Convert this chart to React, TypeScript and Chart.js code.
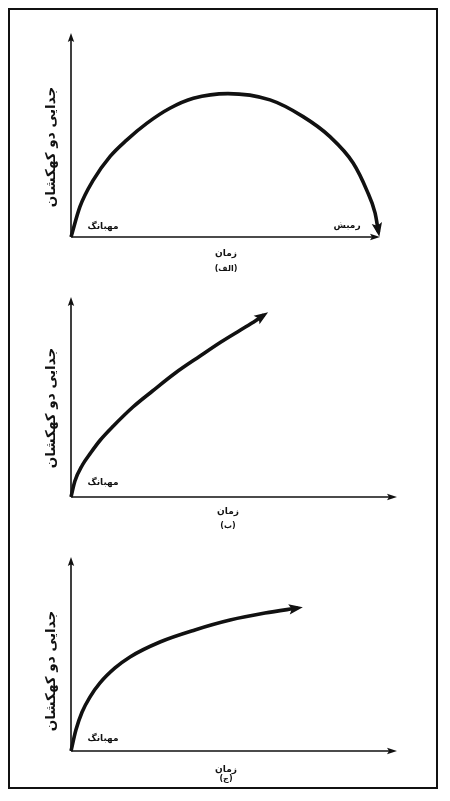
import React, { useEffect, useRef } from "react";
import { Chart, registerables } from "chart.js";

Chart.register(...registerables);

// ---- data (time on x, separation of two galaxies on y, both in % of axis) ----
const panelATime = [0, 2.9, 7.2, 12.6, 18.0, 24.5, 32.0, 39.6, 50.8, 64.4, 75.1, 83.8, 91.3, 95.7, 98.4, 99.5];
const panelASeparation = [0, 14.9, 27.9, 39.4, 47.5, 55.7, 63.1, 68.0, 70.3, 67.2, 59.0, 49.2, 36.3, 23.0, 11.8, 2.5];

const panelBTime = [0, 1.2, 3.5, 6, 9, 13, 19, 25, 32, 39.6, 46, 52, 56.5, 59.2];
const panelBSeparation = [0, 8, 16, 22, 28.5, 35.5, 45, 53, 62, 70.5, 77.5, 83.5, 88, 91];

const panelCTime = [0, 1.5, 3.4, 5.8, 8.9, 13.5, 18.1, 27.3, 38.0, 48.8, 59.5, 69.6];
const panelCSeparation = [0, 10.8, 20.1, 27.8, 35.1, 42.8, 48.5, 56.2, 62.4, 67.5, 71.1, 73.7];

// ---- texts ----
const yAxisTitle = "جدایی دو کهکشان";
const xAxisTitle = "زمان";
const panelCaptions = ["(الف)", "(ب)", "(ج)"];
const bigBangLabel = "مهبانگ";
const bigCrunchLabel = "رمبش";

const INK = "#111111";
const FONT = '"DejaVu Sans", sans-serif';

type Pos = { x: number; y: number };
type PanelCfg = {
  time: number[];
  sep: number[];
  top: number;
  height: number;
  padding: { left: number; right: number; top: number; bottom: number };
  caption: string;
  yTitle: Pos;
  xTitle: Pos;
  captionPos: Pos;
  bang: Pos;
  crunch?: Pos;
};

const panels: PanelCfg[] = [
  {
    time: panelATime,
    sep: panelASeparation,
    top: 10,
    height: 270,
    padding: { left: 71, right: 70, top: 23, bottom: 43 },
    caption: panelCaptions[0],
    yTitle: { x: 51, y: 137 },
    xTitle: { x: 226, y: 244 },
    captionPos: { x: 226, y: 259 },
    bang: { x: 103, y: 217 },
    crunch: { x: 347, y: 216 },
  },
  {
    time: panelBTime,
    sep: panelBSeparation,
    top: 280,
    height: 260,
    padding: { left: 71, right: 53, top: 17, bottom: 43 },
    caption: panelCaptions[1],
    yTitle: { x: 51, y: 128 },
    xTitle: { x: 228, y: 232 },
    captionPos: { x: 228, y: 246 },
    bang: { x: 103, y: 203 },
  },
  {
    time: panelCTime,
    sep: panelCSeparation,
    top: 540,
    height: 246,
    padding: { left: 71, right: 53, top: 17, bottom: 35 },
    caption: panelCaptions[2],
    yTitle: { x: 51, y: 131 },
    xTitle: { x: 226, y: 230 },
    captionPos: { x: 226, y: 239 },
    bang: { x: 103, y: 199 },
  },
];

function arrowHead(
  ctx: CanvasRenderingContext2D,
  tipX: number,
  tipY: number,
  dx: number,
  dy: number,
  len: number,
  half: number
) {
  const n = Math.hypot(dx, dy) || 1;
  const ux = dx / n;
  const uy = dy / n;
  const bx = tipX - ux * len;
  const by = tipY - uy * len;
  const px = -uy;
  const py = ux;
  ctx.beginPath();
  ctx.moveTo(tipX, tipY);
  ctx.lineTo(bx + px * half, by + py * half);
  ctx.lineTo(tipX - ux * len * 0.8, tipY - uy * len * 0.8);
  ctx.lineTo(bx - px * half, by - py * half);
  ctx.closePath();
  ctx.fill();
}

function PanelChart({ cfg }: { cfg: PanelCfg }) {
  const ref = useRef<HTMLCanvasElement | null>(null);

  useEffect(() => {
    if (!ref.current) return;

    const axesPlugin = {
      id: "axesWithArrows",
      beforeDatasetsDraw(chart: any) {
        const { ctx, chartArea } = chart;
        const { left, right, top, bottom } = chartArea;
        ctx.save();
        ctx.strokeStyle = INK;
        ctx.fillStyle = INK;
        ctx.lineWidth = 1.6;
        ctx.lineCap = "butt";
        ctx.beginPath();
        ctx.moveTo(left, bottom);
        ctx.lineTo(left, top + 5);
        ctx.moveTo(left, bottom);
        ctx.lineTo(right - 5, bottom);
        ctx.stroke();
        arrowHead(ctx, left, top, 0, -1, 9, 3.2);
        arrowHead(ctx, right, bottom, 1, 0, 10, 3.2);
        ctx.restore();
      },
    };

    const curveArrowPlugin = {
      id: "curveArrow",
      afterDatasetsDraw(chart: any) {
        const meta = chart.getDatasetMeta(0);
        const pts = meta.data;
        if (!pts || pts.length < 2) return;
        const p = pts[pts.length - 1];
        const q = pts[pts.length - 2];
        let dx = p.x - (p.cp1x ?? q.x);
        let dy = p.y - (p.cp1y ?? q.y);
        if (Math.hypot(dx, dy) < 0.01) {
          dx = p.x - q.x;
          dy = p.y - q.y;
        }
        const n = Math.hypot(dx, dy) || 1;
        const tipX = p.x + (dx / n) * 5;
        const tipY = p.y + (dy / n) * 5;
        const { ctx } = chart;
        ctx.save();
        ctx.fillStyle = INK;
        arrowHead(ctx, tipX, tipY, dx, dy, 14, 5.2);
        ctx.restore();
      },
    };

    const textPlugin = {
      id: "panelTexts",
      afterDraw(chart: any) {
        const { ctx } = chart;
        ctx.save();
        ctx.fillStyle = INK;
        ctx.textAlign = "center";
        ctx.textBaseline = "middle";
        ctx.direction = "rtl";

        ctx.save();
        ctx.translate(cfg.yTitle.x, cfg.yTitle.y);
        ctx.rotate(-Math.PI / 2);
        ctx.font = `bold 13.5px ${FONT}`;
        ctx.fillText(yAxisTitle, 0, 0);
        ctx.restore();

        ctx.font = `bold 9px ${FONT}`;
        ctx.fillText(xAxisTitle, cfg.xTitle.x, cfg.xTitle.y);
        ctx.font = `bold 8px ${FONT}`;
        ctx.fillText(cfg.caption, cfg.captionPos.x, cfg.captionPos.y);
        ctx.font = `bold 9px ${FONT}`;
        ctx.fillText(bigBangLabel, cfg.bang.x, cfg.bang.y);
        if (cfg.crunch) ctx.fillText(bigCrunchLabel, cfg.crunch.x, cfg.crunch.y);
        ctx.restore();
      },
    };

    const chart = new Chart(ref.current, {
      type: "line",
      data: {
        datasets: [
          {
            data: cfg.time.map((t, i) => ({ x: t, y: cfg.sep[i] })),
            borderColor: INK,
            borderWidth: 3.6,
            pointRadius: 0,
            cubicInterpolationMode: "monotone",
            fill: false,
            clip: false as any,
            borderCapStyle: "butt",
            borderJoinStyle: "round",
          } as any,
        ],
      },
      options: {
        responsive: false,
        animation: false,
        events: [],
        layout: { padding: cfg.padding },
        plugins: {
          legend: { display: false },
          tooltip: { enabled: false },
        },
        scales: {
          x: { type: "linear", min: 0, max: 100, display: false },
          y: { type: "linear", min: 0, max: 100, display: false },
        },
      },
      plugins: [axesPlugin, curveArrowPlugin, textPlugin],
    });

    return () => chart.destroy();
  }, [cfg]);

  return (
    <canvas
      ref={ref}
      width={450}
      height={cfg.height}
      style={{
        position: "absolute",
        left: 0,
        top: cfg.top,
        width: 450,
        height: cfg.height,
        display: "block",
      }}
    />
  );
}

export default function App() {
  return (
    <div
      style={{
        position: "absolute",
        left: 0,
        top: 0,
        width: 450,
        height: 801,
        background: "#ffffff",
        overflow: "hidden",
      }}
    >
      <div
        style={{
          position: "absolute",
          left: 8,
          top: 8,
          width: 430,
          height: 781,
          boxSizing: "border-box",
          border: `2px solid ${INK}`,
        }}
      />
      {panels.map((p, i) => (
        <PanelChart key={i} cfg={p} />
      ))}
    </div>
  );
}
